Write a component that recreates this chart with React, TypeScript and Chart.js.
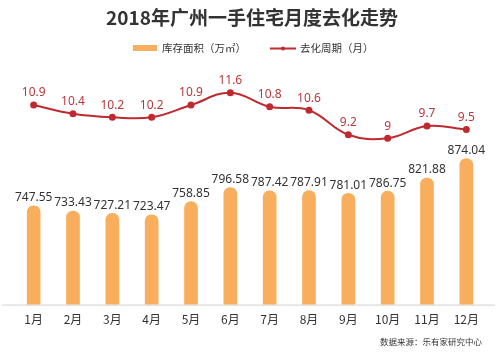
import React, { useEffect, useRef } from "react";
import { Chart, registerables } from "chart.js";

Chart.register(...registerables);

const categories = ["1月", "2月", "3月", "4月", "5月", "6月", "7月", "8月", "9月", "10月", "11月", "12月"];
const inventory = [747.55, 733.43, 727.21, 723.47, 758.85, 796.58, 787.42, 787.91, 781.01, 786.75, 821.88, 874.04];
const cycle = [10.9, 10.4, 10.2, 10.2, 10.9, 11.6, 10.8, 10.6, 9.2, 9, 9.7, 9.5];
const titleText = "2018年广州一手住宅月度去化走势";
const barLabel = "库存面积（万㎡）";
const lineLabel = "去化周期（月）";
const sourceText = "数据来源：乐有家研究中心";

const BAR_COLOR = "#F8AE5C";
const LINE_COLOR = "#BE2A30";
const FONT = "'Noto Sans', 'Noto Sans CJK SC', sans-serif";
const CJK = "'Noto Sans CJK SC', 'Noto Sans', sans-serif";

const decorPlugin = {
  id: "decor",
  afterDraw(chart: any) {
    const ctx = chart.ctx as CanvasRenderingContext2D;
    const w = chart.width;
    ctx.save();
    // title
    ctx.fillStyle = "#333333";
    ctx.font = `bold 19px ${CJK}`;
    ctx.textAlign = "center";
    ctx.textBaseline = "middle";
    ctx.fillText(titleText, 252, 18);
    // legend
    ctx.font = `10.5px ${CJK}`;
    ctx.textAlign = "left";
    ctx.fillStyle = BAR_COLOR;
    ctx.fillRect(133, 45, 24, 6);
    ctx.fillStyle = "#333333";
    ctx.fillText(barLabel, 162, 48.5);
    ctx.strokeStyle = LINE_COLOR;
    ctx.lineWidth = 2;
    ctx.beginPath();
    ctx.moveTo(270, 48.5);
    ctx.lineTo(296, 48.5);
    ctx.stroke();
    ctx.fillStyle = LINE_COLOR;
    ctx.beginPath();
    ctx.arc(283, 48.5, 2, 0, Math.PI * 2);
    ctx.fill();
    ctx.fillStyle = "#333333";
    ctx.fillText(lineLabel, 300, 48.5);
    // source
    ctx.font = `8.5px ${CJK}`;
    ctx.textAlign = "right";
    ctx.fillText(sourceText, 482, 342);
    // value labels
    const barMeta = chart.getDatasetMeta(0);
    ctx.font = `12px ${FONT}`;
    ctx.textAlign = "center";
    ctx.textBaseline = "bottom";
    ctx.fillStyle = "#333333";
    barMeta.data.forEach((el: any, i: number) => {
      ctx.fillText(inventory[i].toFixed(2), el.x, el.y - 2);
    });
    const lineMeta = chart.getDatasetMeta(1);
    ctx.fillStyle = "#B8383C";
    ctx.textBaseline = "middle";
    lineMeta.data.forEach((el: any, i: number) => {
      ctx.fillText(String(cycle[i]), el.x, el.y - 12);
    });
    ctx.restore();
  },
  beforeDatasetsDraw(chart: any) {
    const ctx = chart.ctx as CanvasRenderingContext2D;
    const y = chart.chartArea.bottom + 0.5;
    ctx.save();
    ctx.strokeStyle = "#D0D0D0";
    ctx.lineWidth = 1;
    ctx.beginPath();
    ctx.moveTo(2, y);
    ctx.lineTo(495, y);
    ctx.stroke();
    ctx.restore();
  },
};

export default function App() {
  const ref = useRef<HTMLCanvasElement>(null);
  useEffect(() => {
    document.body.style.margin = "0";
    const chart = new Chart(ref.current!, {
      type: "bar",
      data: {
        labels: categories,
        datasets: [
          {
            type: "bar",
            label: barLabel,
            data: inventory,
            backgroundColor: BAR_COLOR,
            barThickness: 13,
            borderRadius: { topLeft: 7, topRight: 7, bottomLeft: 0, bottomRight: 0 },
            borderSkipped: false,
            yAxisID: "y",
            order: 2,
          },
          {
            type: "line",
            label: lineLabel,
            data: cycle,
            borderColor: LINE_COLOR,
            backgroundColor: LINE_COLOR,
            borderWidth: 2,
            pointRadius: 2.5,
            pointBackgroundColor: LINE_COLOR,
            tension: 0.4,
            yAxisID: "y1",
            order: 1,
          },
        ],
      },
      options: {
        responsive: false,
        animation: false,
        layout: { padding: { top: 70, left: 14, right: 13, bottom: 19 } },
        plugins: { legend: { display: false }, title: { display: false }, tooltip: { enabled: false } },
        scales: {
          x: {
            grid: { display: false, drawTicks: false },
            border: { display: false },
            ticks: { color: "#333333", font: { size: 12, family: CJK }, padding: 8 },
          },
          y: { display: false, min: 483, max: 1111 },
          y1: { display: false, min: -0.5, max: 12.9 },
        },
      },
      plugins: [decorPlugin],
    });
    return () => chart.destroy();
  }, []);
  return (
    <div style={{ position: "fixed", left: 0, top: 0, width: 499, height: 354, background: "#fff" }}>
      <canvas ref={ref} width={499} height={354} />
    </div>
  );
}
